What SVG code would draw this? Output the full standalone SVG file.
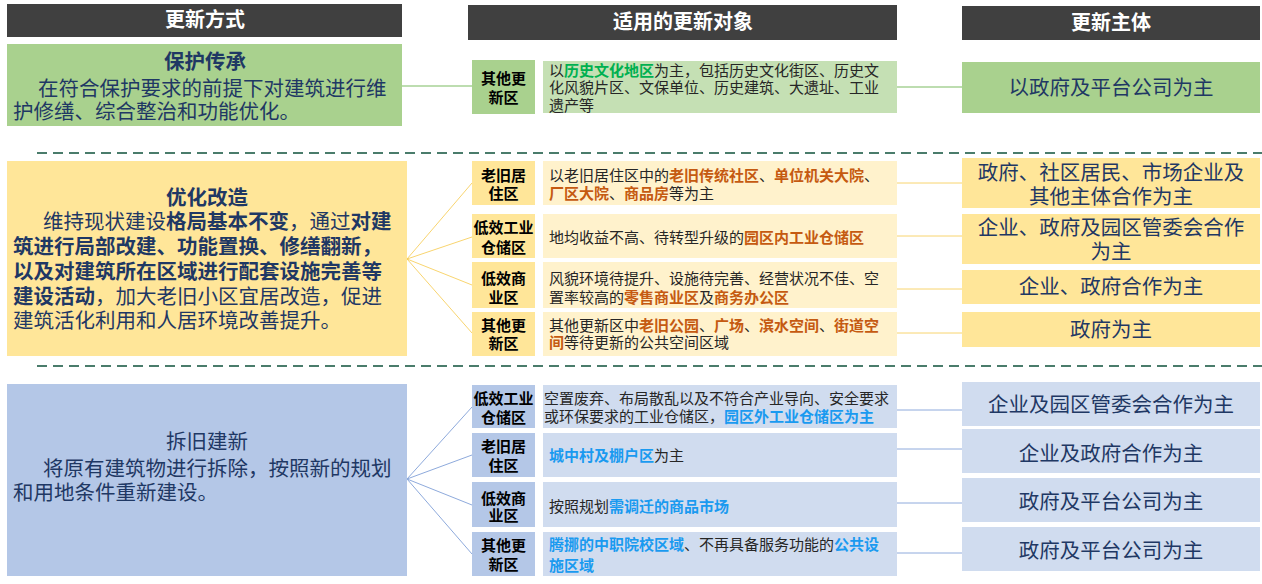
<svg xmlns="http://www.w3.org/2000/svg" width="1262" height="584" viewBox="0 0 1262 584">
<style>
text{font-family:"Liberation Sans","Noto Sans CJK SC",sans-serif}
.hdr{fill:#404040}
.ht{fill:#fff;font-size:20px;font-weight:bold;text-anchor:middle}
.lt{fill:#1f3864;font-size:20.5px}
.b{font-weight:bold}
.lab{fill:#000;font-size:15px;font-weight:bold;text-anchor:middle}
.d{fill:#262626;font-size:15px}
.rt{fill:#1f3864;font-size:20.5px;text-anchor:middle}
.g{fill:#00b050;font-weight:bold}
.o{fill:#c55a11;font-weight:bold}
.bl{fill:#1a9af0;font-weight:bold}
.dash{stroke:#4a7c6b;stroke-width:2.2;stroke-dasharray:10 6;fill:none}
.cg{stroke:#7dbb62;stroke-width:1.2;fill:none}
.cy{stroke:#f6c94a;stroke-width:0.8;fill:none}
.cb{stroke:#8eaadc;stroke-width:1;fill:none}
</style>
<g id="headers">
<rect class="hdr" x="7" y="4" width="395" height="33"/>
<text class="ht" x="205" y="27">更新方式</text>
<rect class="hdr" x="468" y="5" width="429" height="35"/>
<text class="ht" x="683" y="29">适用的更新对象</text>
<rect class="hdr" x="962" y="6" width="298" height="34"/>
<text class="ht" x="1111" y="30">更新主体</text>
</g>
<g id="separators">
<line class="dash" x1="37" y1="153" x2="1262" y2="153"/>
<line class="dash" x1="37" y1="366" x2="1262" y2="366"/>
</g>
<g id="connectors">
<line class="cg" x1="402" y1="86" x2="472" y2="86"/>
<line class="cg" x1="897" y1="87" x2="962" y2="87"/>
<line class="cy" x1="407" y1="259" x2="472" y2="183"/>
<line class="cy" x1="407" y1="259" x2="472" y2="237"/>
<line class="cy" x1="407" y1="259" x2="472" y2="285"/>
<line class="cy" x1="407" y1="259" x2="472" y2="333"/>
<line class="cy" x1="897" y1="183" x2="962" y2="183"/>
<line class="cy" x1="897" y1="236" x2="962" y2="236"/>
<line class="cy" x1="897" y1="289" x2="962" y2="289"/>
<line class="cy" x1="897" y1="333" x2="962" y2="333"/>
<line class="cb" x1="407" y1="479" x2="472" y2="407"/>
<line class="cb" x1="407" y1="479" x2="472" y2="455"/>
<line class="cb" x1="407" y1="479" x2="472" y2="505"/>
<line class="cb" x1="407" y1="479" x2="472" y2="554"/>
<line class="cb" x1="897" y1="410" x2="962" y2="410"/>
<line class="cb" x1="897" y1="449" x2="962" y2="449"/>
<line class="cb" x1="897" y1="503" x2="962" y2="503"/>
<line class="cb" x1="897" y1="553" x2="962" y2="553"/>
</g>
<g id="method-protect">
<rect x="7" y="44" width="395" height="82" fill="#a9d18e"/>
<text class="lt b" x="205" y="69" text-anchor="middle" font-size="21.5">保护传承</text>
<text class="lt" x="38" y="96">在符合保护要求的前提下对建筑进行维</text>
<text class="lt" x="13" y="119">护修缮、综合整治和功能优化。</text>
</g>
<g id="method-optimize">
<rect x="7" y="161" width="400" height="195" fill="#ffe699"/>
<text class="lt b" x="207" y="205" text-anchor="middle" font-size="21">优化改造</text>
<text class="lt" x="43" y="229">维持现状建设<tspan class="b">格局基本不变</tspan>，通过<tspan class="b">对建</tspan></text>
<text class="lt b" x="13" y="254">筑进行局部改建、功能置换、修缮翻新，</text>
<text class="lt b" x="13" y="279">以及对建筑所在区域进行配套设施完善等</text>
<text class="lt" x="13" y="304"><tspan class="b">建设活动</tspan>，加大老旧小区宜居改造，促进</text>
<text class="lt" x="13" y="328">建筑活化利用和人居环境改善提升。</text>
</g>
<g id="method-rebuild">
<rect x="7" y="384" width="400" height="192" fill="#b4c7e7"/>
<text class="lt" x="207" y="449" text-anchor="middle" font-size="21">拆旧建新</text>
<text class="lt" x="43" y="476">将原有建筑物进行拆除，按照新的规划</text>
<text class="lt" x="13" y="500">和用地条件重新建设。</text>
</g>
<g id="obj-1">
<rect x="472" y="60" width="63" height="54" fill="#a9d18e"/>
<text class="lab" x="503.5" y="83.5">其他更</text>
<text class="lab" x="503.5" y="102.5">新区</text>
<rect x="543" y="61" width="354" height="52" fill="#c5e0b4"/>
<text class="d" x="549" y="75.5">以<tspan class="g">历史文化地区</tspan>为主，包括历史文化街区、历史文</text>
<text class="d" x="549" y="92.5">化风貌片区、文保单位、历史建筑、大遗址、工业</text>
<text class="d" x="549" y="110.5">遗产等</text>
</g>
<g id="subj-1">
<rect x="962" y="62" width="298" height="51" fill="#a9d18e"/>
<text class="rt" x="1111" y="95" font-size="22">以政府及平台公司为主</text>
</g>
<g id="obj-2a">
<rect x="472" y="161" width="63" height="44" fill="#ffe699"/>
<text class="lab" x="503.5" y="180.5">老旧居</text>
<text class="lab" x="503.5" y="198.5">住区</text>
<rect x="543" y="161" width="354" height="44" fill="#fff2cc"/>
<text class="d" x="549" y="180.5">以老旧居住区中的<tspan class="o">老旧传统社区</tspan>、<tspan class="o">单位机关大院</tspan>、</text>
<text class="d" x="549" y="198.5"><tspan class="o">厂区大院</tspan>、<tspan class="o">商品房</tspan>等为主</text>
</g>
<g id="obj-2b">
<rect x="472" y="214" width="63" height="44" fill="#ffe699"/>
<text class="lab" x="503.5" y="232.5">低效工业</text>
<text class="lab" x="503.5" y="252.5">仓储区</text>
<rect x="543" y="214" width="354" height="44" fill="#fff2cc"/>
<text class="d" x="549" y="242.5">地均收益不高、待转型升级的<tspan class="o">园区内工业仓储区</tspan></text>
</g>
<g id="obj-2c">
<rect x="472" y="262" width="63" height="46" fill="#ffe699"/>
<text class="lab" x="503.5" y="283.5">低效商</text>
<text class="lab" x="503.5" y="302.5">业区</text>
<rect x="543" y="262" width="354" height="46" fill="#fff2cc"/>
<text class="d" x="549" y="283.5">风貌环境待提升、设施待完善、经营状况不佳、空</text>
<text class="d" x="549" y="302.5">置率较高的<tspan class="o">零售商业区</tspan>及<tspan class="o">商务办公区</tspan></text>
</g>
<g id="obj-2d">
<rect x="472" y="312" width="63" height="44" fill="#ffe699"/>
<text class="lab" x="503.5" y="330.5">其他更</text>
<text class="lab" x="503.5" y="348.5">新区</text>
<rect x="543" y="312" width="354" height="44" fill="#fff2cc"/>
<text class="d" x="549" y="330.5">其他更新区中<tspan class="o">老旧公园</tspan>、<tspan class="o">广场</tspan>、<tspan class="o">滨水空间</tspan>、<tspan class="o">街道空</tspan></text>
<text class="d" x="549" y="347.5"><tspan class="o">间</tspan>等待更新的公共空间区域</text>
</g>
<g id="subj-2">
<rect x="962" y="158" width="298" height="50" fill="#ffe699"/>
<text class="rt" x="1111" y="180">政府、社区居民、市场企业及</text>
<text class="rt" x="1111" y="204">其他主体合作为主</text>
<rect x="962" y="214" width="298" height="50" fill="#ffe699"/>
<text class="rt" x="1111" y="235">企业、政府及园区管委会合作</text>
<text class="rt" x="1111" y="259">为主</text>
<rect x="962" y="270" width="298" height="34" fill="#ffe699"/>
<text class="rt" x="1111" y="294">企业、政府合作为主</text>
<rect x="962" y="312" width="298" height="35" fill="#ffe699"/>
<text class="rt" x="1111" y="337">政府为主</text>
</g>
<g id="obj-3a">
<rect x="472" y="385" width="63" height="43" fill="#b4c7e7"/>
<text class="lab" x="503.5" y="403.5">低效工业</text>
<text class="lab" x="503.5" y="422.5">仓储区</text>
<rect x="543" y="385" width="354" height="43" fill="#d0dcef"/>
<text class="d" x="544" y="403.5">空置废弃、布局散乱以及不符合产业导向、安全要求</text>
<text class="d" x="544" y="421.5">或环保要求的工业仓储区，<tspan class="bl">园区外工业仓储区为主</tspan></text>
</g>
<g id="obj-3b">
<rect x="472" y="433" width="63" height="44" fill="#b4c7e7"/>
<text class="lab" x="503.5" y="451.5">老旧居</text>
<text class="lab" x="503.5" y="470.5">住区</text>
<rect x="543" y="433" width="354" height="44" fill="#d0dcef"/>
<text class="d" x="549" y="460.5"><tspan class="bl">城中村及棚户区</tspan>为主</text>
</g>
<g id="obj-3c">
<rect x="472" y="482" width="63" height="45" fill="#b4c7e7"/>
<text class="lab" x="503.5" y="503.5">低效商</text>
<text class="lab" x="503.5" y="520.5">业区</text>
<rect x="543" y="482" width="354" height="45" fill="#d0dcef"/>
<text class="d" x="549" y="511.5">按照规划<tspan class="bl">需调迁的商品市场</tspan></text>
</g>
<g id="obj-3d">
<rect x="472" y="532" width="63" height="44" fill="#b4c7e7"/>
<text class="lab" x="503.5" y="550.5">其他更</text>
<text class="lab" x="503.5" y="569.5">新区</text>
<rect x="543" y="532" width="354" height="44" fill="#d0dcef"/>
<text class="d" x="549" y="549.5"><tspan class="bl">腾挪的中职院校区域</tspan>、不再具备服务功能的<tspan class="bl">公共设</tspan></text>
<text class="d" x="549" y="570.5"><tspan class="bl">施区域</tspan></text>
</g>
<g id="subj-3">
<rect x="962" y="382" width="298" height="44" fill="#d0dcef"/>
<text class="rt" x="1111" y="411.5">企业及园区管委会合作为主</text>
<rect x="962" y="429" width="298" height="44" fill="#d0dcef"/>
<text class="rt" x="1111" y="460.5">企业及政府合作为主</text>
<rect x="962" y="478" width="298" height="44" fill="#d0dcef"/>
<text class="rt" x="1111" y="508.5">政府及平台公司为主</text>
<rect x="962" y="527" width="298" height="44" fill="#d0dcef"/>
<text class="rt" x="1111" y="557.5">政府及平台公司为主</text>
</g>
</svg>
